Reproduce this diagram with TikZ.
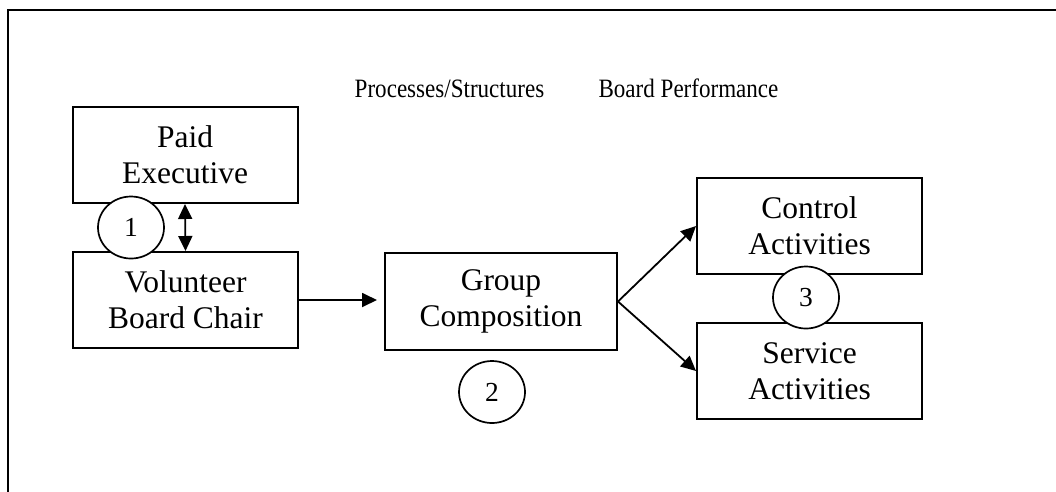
\documentclass[tikz,border=0pt]{standalone}
\usepackage{fontspec}
\setmainfont{Liberation Serif}
\usetikzlibrary{arrows.meta,shapes.geometric}
\begin{document}
\begin{tikzpicture}[x=1pt,y=-1pt,
  >={Triangle[length=15pt,width=14pt]},
  box/.style={draw,line width=2pt,minimum width=225pt,minimum height=96pt,
    inner sep=0pt,align=center,font=\fontsize{31.5}{36}\selectfont},
  num/.style={draw,fill=white,ellipse,line width=1.7pt,minimum width=66pt,
    minimum height=62pt,inner sep=0pt,font=\fontsize{27.5}{30}\selectfont},
  head/.style={anchor=base,inner sep=0pt,font=\fontsize{26.5}{30}\selectfont},
  link/.style={line width=1.8pt,->},
  biglink/.style={line width=1.8pt,<->}
]
\useasboundingbox (0,0) rectangle (1056,491);
\clip (0,0) rectangle (1056,491);

% outer frame
\draw[line width=2.8pt] (8,520) -- (8,10) -- (1080,10);

% column headings
\node[head] (hproc) at (449.5,97) {\scalebox{0.87}[1]{Processes/Structures}};
\node[head] (hperf) at (688.5,97) {\scalebox{0.87}[1]{Board Performance}};

% boxes
\node[box] (pe)  at (185,155)   {Paid\\Executive};
\node[box] (vbc) at (185.5,300) {Volunteer\\Board Chair};
\node[box,minimum width=232pt,minimum height=97pt] (gc) at (501,301.5) {Group\\Composition};
\node[box] (ca)  at (809.5,226) {Control\\Activities};
\node[box] (sa)  at (809.5,371) {Service\\Activities};

% connectors
\draw[biglink] (pe.south) -- (vbc.north);
\draw[link,shorten >=7pt] (vbc.east) -- (vbc.east -| gc.west);
\draw[link] (gc.east) -- (ca.west);
\draw[link] (gc.east) -- (sa.west);

% numbered markers
\node[num] (m1) at (131,227.5) {1};
\node[num] (m2) at (492,392)   {2};
\node[num] (m3) at (806,297.5) {3};
\end{tikzpicture}
\end{document}
